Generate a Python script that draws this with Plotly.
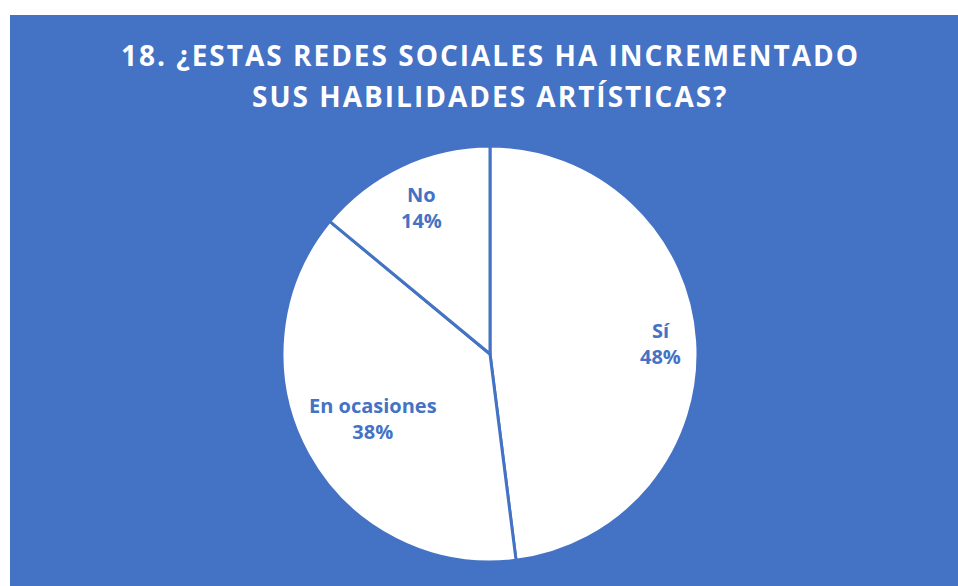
import math
import plotly.graph_objects as go

categories = ["Sí", "En ocasiones", "No"]
values = [48, 38, 14]
title_lines = ["18. ¿ESTAS REDES SOCIALES HA INCREMENTADO", "SUS HABILIDADES ARTÍSTICAS?"]

# layout / style settings (pixels)
BLUE = "#4472C4"
W, H = 958, 586
CX, CY, R = 490, 354, 206
label_radius_frac = [0.827, 0.65, 0.786]

fig = go.Figure(go.Pie(
    labels=categories,
    values=values,
    sort=False,
    direction="clockwise",
    rotation=0,
    marker=dict(colors=["white"] * len(values), line=dict(color=BLUE, width=3)),
    textinfo="none",
    hoverinfo="label+percent",
    showlegend=False,
    domain=dict(x=[(CX - R - 2) / W, (CX + R + 2) / W],
                y=[1 - (CY + R + 2) / H, 1 - (CY - R - 2) / H]),
))

# background panel
fig.add_shape(type="rect", xref="paper", yref="paper",
              x0=10 / W, x1=1.02, y0=-0.02, y1=1 - 15 / H,
              fillcolor=BLUE, line=dict(width=0), layer="below")

# data labels placed at each slice's mid-angle
total = sum(values)
cum = 0
for cat, v, fr in zip(categories, values, label_radius_frac):
    mid = (cum + v / 2) / total * 2 * math.pi
    cum += v
    px = CX + fr * R * math.sin(mid)
    py = CY - fr * R * math.cos(mid)
    fig.add_annotation(
        text=f"<b>{cat}<br>{round(v / total * 100)}%</b>",
        xref="paper", yref="paper", x=px / W, y=1 - py / H,
        xanchor="center", yanchor="middle", showarrow=False, align="center",
        font=dict(family="Open Sans", size=20, color=BLUE),
    )

# title lines
for line, ty in zip(title_lines, [55, 96]):
    fig.add_annotation(
        text="<b>" + line + "</b>",
        xref="paper", yref="paper", x=490 / W, y=1 - ty / H,
        xanchor="center", yanchor="middle", showarrow=False, align="center",
        font=dict(family="Open Sans", size=28, color="white"),
    )

fig.update_layout(
    width=W, height=H,
    margin=dict(l=0, r=0, t=0, b=0),
    paper_bgcolor="white",
    plot_bgcolor="white",
)

post_js = (
    "document.documentElement.style.overflow='hidden';"
    "document.body.style.margin='0';"
    "document.body.style.overflow='hidden';"
    "document.querySelectorAll('.annotation-text').forEach(function(e){"
    "if(e.style.fontSize==='28px'){e.style.letterSpacing='2px';}});"
)

fig.write_html("out.html", post_script=post_js, config={"displayModeBar": False})
